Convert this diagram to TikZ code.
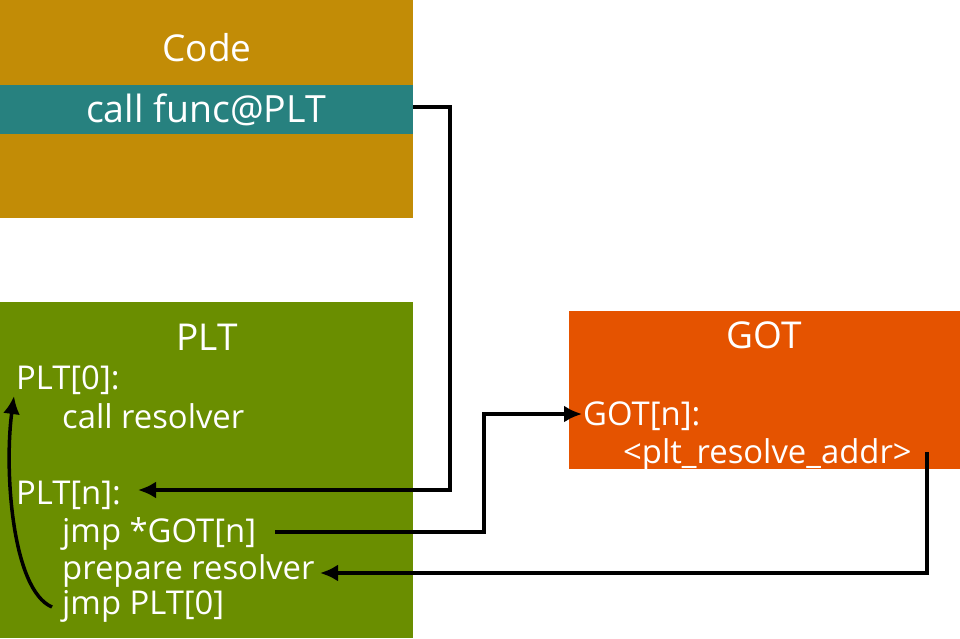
\documentclass[tikz,border=0pt]{standalone}
\usepackage{fontspec}
\setmainfont{Open Sans}
\usetikzlibrary{arrows.meta}
\definecolor{codecol}{HTML}{C28C06}
\definecolor{callcol}{HTML}{27817F}
\definecolor{pltcol}{HTML}{6A8E00}
\definecolor{gotcol}{HTML}{E55300}
\tikzset{
  box/.style={anchor=north west, inner sep=0pt, outer sep=0pt, draw=none},
  title/.style={anchor=base, inner sep=0pt, text=white, font=\fontsize{37}{44}\selectfont},
  calltxt/.style={anchor=base, inner sep=0pt, text=white, font=\fontsize{37.5}{44}\selectfont},
  body/.style={anchor=base west, inner sep=0pt, text=white, font=\fontsize{32.8}{38}\selectfont},
  conn/.style={draw=black, line width=3.5pt, -{Latex[length=18pt,width=17pt]}},
}
\begin{document}
\begin{tikzpicture}[x=1pt,y=-1pt]
\useasboundingbox (0,0) rectangle (960,638);
% boxes
\node[box, fill=codecol, minimum width=413pt, minimum height=218pt] (code) at (0,0) {};
\node[box, fill=callcol, minimum width=413pt, minimum height=49pt] (callband) at (0,85) {};
\node[box, fill=pltcol, minimum width=413pt, minimum height=336pt] (plt) at (0,302) {};
\node[box, fill=gotcol, minimum width=391pt, minimum height=158pt] (got) at (569,311) {};
% titles
\node[title] (codet) at (207,61) {Code};
\node[calltxt] (call) at (206,122) {call func@PLT};
\node[title] (pltt) at (207,350) {PLT};
\node[title] (gott) at (764,348) {GOT};
% PLT body
\node[body] (plt0) at (16,389) {PLT[0]:};
\node[body] (callres) at (62,428) {call resolver};
\node[body] (pltn) at (16,504) {PLT[n]:};
\node[body] (jmpgot) at (62,542) {jmp *GOT[n]};
\node[body] (prep) at (62,579) {prepare resolver};
\node[body] (jmpplt) at (62,614) {jmp PLT[0]};
% GOT body
\node[body] (gotn) at (583,425) {GOT[n]:};
\node[body] (addr) at (623,463) {<plt\_resolve\_addr>};
% free ends
\coordinate (c1) at (413,107);
\coordinate (e1) at (138,490);
\coordinate (s2) at (275,532);
\coordinate (e2) at (582,414);
\coordinate (s3) at (927,452);
\coordinate (e3) at (320,573);
\coordinate (s4) at (52,607);
\coordinate (e4) at (14,396);
% connectors
\draw[conn] (c1) -- (450,107) |- (e1);
\draw[conn] (s2) -- (484,532) |- (e2);
\draw[conn] (s3) |- (e3);
\draw[conn] (s4) .. controls (12,590) and (4,470) .. (e4);
\end{tikzpicture}
\end{document}
